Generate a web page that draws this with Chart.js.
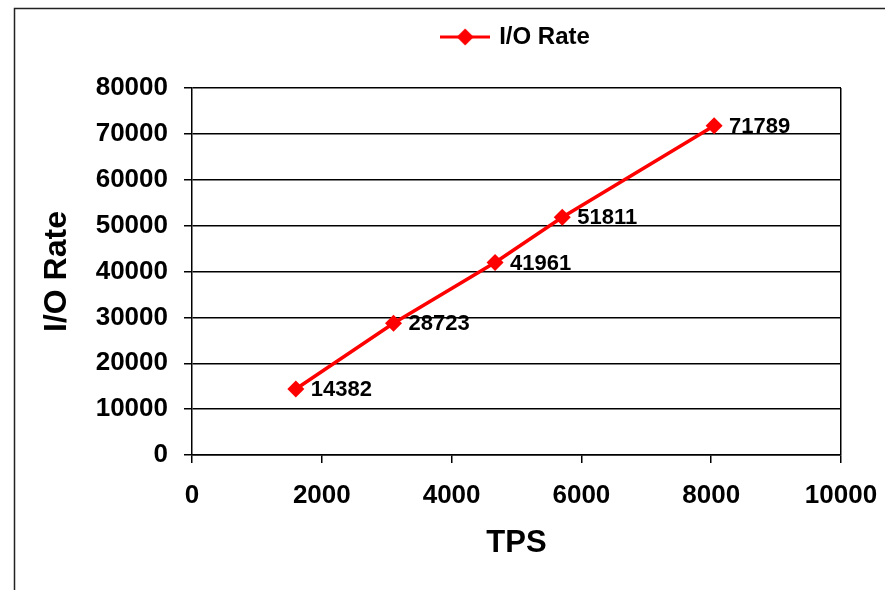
<!DOCTYPE html>
<html>
<head>
<meta charset="utf-8">
<script src="https://cdn.jsdelivr.net/npm/chart.js@4"></script>
<style>
  html, body { margin: 0; padding: 0; background: #fff; }
  #wrap { width: 885px; height: 590px; position: relative; }
</style>
</head>
<body>
<div id="wrap"><canvas id="myChart" width="885" height="590"></canvas></div>
<script>
const tpsValues = [1600, 3105, 4670, 5705, 8045];
const ioRates = [14382, 28723, 41961, 51811, 71789];
const seriesName = 'I/O Rate';
const xTitle = 'TPS';
const yTitle = 'I/O Rate';

const ctx = document.getElementById('myChart');
const FONT = 'Liberation Sans, Arial, sans-serif';

// legend symbol: red line with a diamond on it
const legendIcon = document.createElement('canvas');
legendIcon.width = 50;
legendIcon.height = 20;
(() => {
    const c = legendIcon.getContext('2d');
    c.strokeStyle = '#FF0000';
    c.fillStyle = '#FF0000';
    c.lineWidth = 3;
    c.beginPath();
    c.moveTo(0, 10);
    c.lineTo(50, 10);
    c.stroke();
    c.beginPath();
    c.moveTo(25, 1.5);
    c.lineTo(33.5, 10);
    c.lineTo(25, 18.5);
    c.lineTo(16.5, 10);
    c.closePath();
    c.fill();
})();

const frame = {
    id: 'frame',
    beforeDraw: (chart) => {
        const c = chart.ctx;
        c.save();
        c.fillStyle = '#fff';
        c.fillRect(0, 0, chart.width, chart.height);
        c.strokeStyle = '#222';
        c.lineWidth = 1.5;
        c.strokeRect(14.5, 8.5, chart.width + 10, chart.height + 10);
        c.restore();
    },
    afterInit: (chart) => {
        const fit = chart.legend.fit;
        chart.legend.fit = function () {
            fit.call(this);
            this.height = 88;
        };
    }
};

const pointLabels = {
    id: 'pointLabels',
    afterDatasetsDraw: (chart) => {
        const c = chart.ctx;
        const meta = chart.getDatasetMeta(0);
        c.save();
        c.font = 'bold 22px ' + FONT;
        c.fillStyle = '#000';
        c.textAlign = 'left';
        c.textBaseline = 'middle';
        meta.data.forEach((pt, i) => {
            c.fillText(String(ioRates[i]), pt.x + 15, pt.y + 1);
        });
        c.restore();
    }
};

const plain = (v) => String(v);

new Chart(ctx, {
    type: 'line',
    data: {
        datasets: [{
            label: seriesName,
            data: tpsValues.map((x, i) => ({ x: x, y: ioRates[i] })),
            borderColor: '#FF0000',
            backgroundColor: '#FF0000',
            borderWidth: 3.5,
            pointStyle: 'rectRot',
            pointRadius: 8.5,
            pointHoverRadius: 8.5,
            pointBorderWidth: 0,
            tension: 0
        }]
    },
    plugins: [frame, pointLabels],
    options: {
        responsive: false,
        animation: false,
        events: [],
        layout: { padding: { top: 0, bottom: 20, left: 0, right: 44 } },
        plugins: {
            tooltip: { enabled: false },
            legend: {
                position: 'top',
                fullSize: false,
                labels: {
                    usePointStyle: true,
                    pointStyleWidth: 44,
                    padding: 25,
                    color: '#000',
                    font: { family: FONT, size: 24, weight: 'bold' },
                    generateLabels: () => [{
                        text: seriesName,
                        pointStyle: legendIcon,
                        fillStyle: '#FF0000',
                        strokeStyle: '#FF0000',
                        lineWidth: 0,
                        datasetIndex: 0
                    }]
                }
            }
        },
        scales: {
            x: {
                type: 'linear',
                min: 0,
                max: 10000,
                afterFit: (s) => {
                    s.height = 115;
                    s.paddingLeft = 0;
                    s.paddingRight = 0;
                },
                ticks: {
                    stepSize: 2000,
                    padding: 17,
                    color: '#000',
                    callback: plain,
                    font: { family: FONT, size: 26, weight: 'bold' }
                },
                grid: {
                    drawOnChartArea: true,
                    color: (c) => (c.tick && c.tick.value === 10000) ? '#000' : 'rgba(0,0,0,0)',
                    tickColor: '#000',
                    tickLength: 8,
                    lineWidth: 1.5
                },
                border: { display: true, color: '#000', width: 1.5 },
                title: {
                    display: true,
                    text: xTitle,
                    color: '#000',
                    font: { family: FONT, size: 31, weight: 'bold' },
                    padding: { top: 0, bottom: 8 }
                }
            },
            y: {
                min: 0,
                max: 80000,
                afterFit: (s) => {
                    s.width = 192;
                    s.paddingTop = 0;
                    s.paddingBottom = 0;
                },
                ticks: {
                    stepSize: 10000,
                    padding: 16,
                    color: '#000',
                    callback: plain,
                    font: { family: FONT, size: 26, weight: 'bold' }
                },
                grid: {
                    color: '#000',
                    tickColor: '#000',
                    tickLength: 8,
                    lineWidth: 1.5
                },
                border: { display: true, color: '#000', width: 1.5 },
                title: {
                    display: true,
                    text: yTitle,
                    color: '#000',
                    font: { family: FONT, size: 32, weight: 'bold' },
                    padding: { top: 38, bottom: 0 }
                }
            }
        }
    }
});
</script>
</body>
</html>
